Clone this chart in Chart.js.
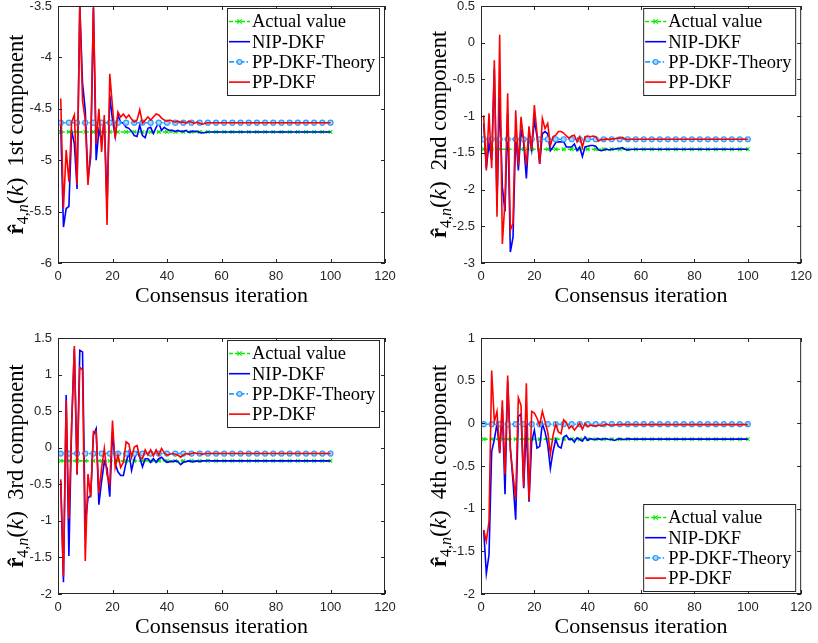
<!DOCTYPE html>
<html>
<head>
<meta charset="utf-8">
<script src="https://cdn.jsdelivr.net/npm/chart.js@4/dist/chart.umd.min.js"></script>
<style>
  body { margin: 0; background: #fff; width: 818px; height: 643px; position: relative; overflow: hidden; }
  canvas { position: absolute; }
</style>
</head>
<body>
<canvas id="c1" width="409" height="331" style="left:0;top:-10px"></canvas>
<canvas id="c2" width="409" height="331" style="left:409px;top:-10px"></canvas>
<canvas id="c3" width="409" height="322" style="left:0;top:321px"></canvas>
<canvas id="c4" width="409" height="322" style="left:409px;top:321px"></canvas>
<script>
// leyenda y ejes
const seriesNames = ["Actual value", "NIP-DKF", "PP-DKF-Theory", "PP-DKF"];
const componentNames = ["1st", "2nd", "3rd", "4th"];
const xTitle = "Consensus iteration";
const xTicks = [0, 20, 40, 60, 80, 100, 120];

// iteraciones de consenso 1..100
const iters = Array.from({ length: 100 }, (_, i) => i + 1);

// valores reales y teoricos (constantes)
const actualVals = [-4.725, -1.45, -0.18, -0.185];
const theoryVals = [-4.635, -1.315, -0.08, -0.01];

// rangos del eje y
const yMin = [-6, -3, -2, -2];
const yMax = [-3.5, 0.5, 1.5, 1];

// 1st component
const nip1 = [-4.65, -5.65, -5.47, -5.45, -4.71, -4.84, -5.28, -3.5, -4.25, -4.51,
  -5.19, -4.97, -3.52, -5.0, -4.71, -4.81, -4.61, -5.45, -4.37, -4.61,
  -4.77, -4.56, -4.63, -4.64, -4.68, -4.69, -4.72, -4.76, -4.77, -4.66,
  -4.76, -4.78, -4.69, -4.68, -4.74, -4.68, -4.64, -4.71, -4.68, -4.7,
  -4.71, -4.71, -4.72, -4.71, -4.72, -4.72, -4.71, -4.73, -4.72, -4.72,
  -4.72, -4.73, -4.735, -4.73, -4.725, -4.725, -4.725, -4.725, -4.725, -4.725,
  -4.725, -4.725, -4.725, -4.725, -4.725, -4.725, -4.725, -4.725, -4.725, -4.725,
  -4.725, -4.725, -4.725, -4.725, -4.725, -4.725, -4.725, -4.725, -4.725, -4.725,
  -4.725, -4.725, -4.725, -4.725, -4.725, -4.725, -4.725, -4.725, -4.725, -4.725,
  -4.725, -4.725, -4.725, -4.725, -4.725, -4.725, -4.725, -4.725, -4.725, -4.725];
const pp1 = [-4.4, -5.47, -4.9, -5.21, -4.63, -4.56, -5.24, -3.48, -4.42, -4.61,
  -5.24, -4.87, -3.5, -4.84, -4.5, -4.92, -4.56, -5.63, -4.16, -4.48,
  -4.79, -4.53, -4.58, -4.55, -4.59, -4.56, -4.6, -4.63, -4.61, -4.51,
  -4.64, -4.61, -4.58, -4.61, -4.58, -4.55, -4.56, -4.59, -4.61, -4.62,
  -4.61, -4.62, -4.63, -4.62, -4.63, -4.63, -4.64, -4.62, -4.63, -4.64,
  -4.63, -4.64, -4.65, -4.64, -4.635, -4.635, -4.635, -4.635, -4.635, -4.635,
  -4.635, -4.635, -4.635, -4.635, -4.635, -4.635, -4.635, -4.635, -4.635, -4.635,
  -4.635, -4.635, -4.635, -4.635, -4.635, -4.635, -4.635, -4.635, -4.635, -4.635,
  -4.635, -4.635, -4.635, -4.635, -4.635, -4.635, -4.635, -4.635, -4.635, -4.635,
  -4.635, -4.635, -4.635, -4.635, -4.635, -4.635, -4.635, -4.635, -4.635, -4.635];

// 2nd component
const nip2 = [-1.1, -1.71, -1.37, -1.6, -0.35, -2.19, -0.74, -1.96, -2.3, -0.96,
  -2.85, -2.65, -1.24, -1.74, -1.19, -1.37, -1.85, -1.24, -1.46, -1.05,
  -1.28, -1.65, -1.24, -1.21, -1.24, -1.47, -1.42, -1.36, -1.35, -1.35,
  -1.35, -1.42, -1.42, -1.42, -1.38, -1.47, -1.42, -1.55, -1.42, -1.41,
  -1.4, -1.4, -1.41, -1.46, -1.47, -1.46, -1.45, -1.46, -1.45, -1.45,
  -1.44, -1.44, -1.43, -1.45, -1.46, -1.455, -1.45, -1.45, -1.45, -1.45,
  -1.45, -1.45, -1.45, -1.45, -1.45, -1.45, -1.45, -1.45, -1.45, -1.45,
  -1.45, -1.45, -1.45, -1.45, -1.45, -1.45, -1.45, -1.45, -1.45, -1.45,
  -1.45, -1.45, -1.45, -1.45, -1.45, -1.45, -1.45, -1.45, -1.45, -1.45,
  -1.45, -1.45, -1.45, -1.45, -1.45, -1.45, -1.45, -1.45, -1.45, -1.45];
const pp2 = [-0.99, -1.74, -0.96, -1.71, -0.24, -2.37, 0.11, -2.74, -2.15, -0.69,
  -2.55, -2.46, -0.92, -1.67, -1.01, -1.33, -1.67, -1.14, -1.46, -0.85,
  -1.24, -1.65, -1.03, -1.17, -1.1, -1.4, -1.28, -1.26, -1.21, -1.21,
  -1.23, -1.27, -1.3, -1.27, -1.26, -1.35, -1.28, -1.42, -1.28, -1.27,
  -1.28, -1.27, -1.28, -1.34, -1.32, -1.32, -1.31, -1.32, -1.31, -1.31,
  -1.3, -1.3, -1.29, -1.31, -1.32, -1.315, -1.315, -1.315, -1.315, -1.315,
  -1.315, -1.315, -1.315, -1.315, -1.315, -1.315, -1.315, -1.315, -1.315, -1.315,
  -1.315, -1.315, -1.315, -1.315, -1.315, -1.315, -1.315, -1.315, -1.315, -1.315,
  -1.315, -1.315, -1.315, -1.315, -1.315, -1.315, -1.315, -1.315, -1.315, -1.315,
  -1.315, -1.315, -1.315, -1.315, -1.315, -1.315, -1.315, -1.315, -1.315, -1.315];

// 3rd component
const nip3 = [-0.46, -1.84, 0.72, -1.48, 0.3, 1.35, -0.37, 1.33, 1.31, -1.05,
  -0.69, -0.65, 0.17, 0.26, -0.78, -0.46, -0.19, -0.28, -0.67, 0.22,
  -0.22, -0.33, -0.38, -0.38, -0.2, -0.06, -0.31, -0.15, -0.06, -0.13,
  -0.26, -0.15, -0.15, -0.2, -0.15, -0.2, -0.15, -0.13, -0.17, -0.2,
  -0.19, -0.19, -0.18, -0.19, -0.23, -0.2, -0.19, -0.18, -0.19, -0.19,
  -0.18, -0.19, -0.18, -0.18, -0.175, -0.18, -0.18, -0.18, -0.18, -0.18,
  -0.18, -0.18, -0.18, -0.18, -0.18, -0.18, -0.18, -0.18, -0.18, -0.18,
  -0.18, -0.18, -0.18, -0.18, -0.18, -0.18, -0.18, -0.18, -0.18, -0.18,
  -0.18, -0.18, -0.18, -0.18, -0.18, -0.18, -0.18, -0.18, -0.18, -0.18,
  -0.18, -0.18, -0.18, -0.18, -0.18, -0.18, -0.18, -0.18, -0.18, -0.18];
const pp3 = [-0.43, -1.76, 0.65, -0.97, 0.3, 1.39, -0.36, 1.1, 1.06, -1.55,
  -0.36, -0.68, 0.22, 0.22, -0.62, -0.28, -0.01, -0.37, -0.5, 0.37,
  -0.27, -0.1, -0.27, -0.2, 0.08, 0.05, -0.13, 0.01, 0.03, -0.13,
  -0.15, -0.03, -0.1, -0.03, -0.11, -0.03, -0.1, -0.01, -0.07, -0.1,
  -0.09, -0.08, -0.09, -0.1, -0.13, -0.1, -0.08, -0.09, -0.08, -0.07,
  -0.08, -0.08, -0.09, -0.08, -0.08, -0.08, -0.08, -0.08, -0.08, -0.08,
  -0.08, -0.08, -0.08, -0.08, -0.08, -0.08, -0.08, -0.08, -0.08, -0.08,
  -0.08, -0.08, -0.08, -0.08, -0.08, -0.08, -0.08, -0.08, -0.08, -0.08,
  -0.08, -0.08, -0.08, -0.08, -0.08, -0.08, -0.08, -0.08, -0.08, -0.08,
  -0.08, -0.08, -0.08, -0.08, -0.08, -0.08, -0.08, -0.08, -0.08, -0.08];

// 4th component
const nip4 = [-1.25, -1.76, -1.54, -0.33, -0.19, 0.0, -0.35, 0.16, -0.83, 0.49,
  -0.29, -0.68, -1.13, 0.08, 0.11, -0.76, -0.02, -0.92, -0.21, -0.08,
  -0.29, -0.27, 0.0, -0.1, -0.25, -0.53, -0.33, -0.19, -0.27, -0.29,
  -0.16, -0.14, -0.19, -0.18, -0.22, -0.17, -0.19, -0.21, -0.16, -0.2,
  -0.18, -0.19, -0.19, -0.18, -0.19, -0.18, -0.18, -0.19, -0.19, -0.2,
  -0.19, -0.18, -0.19, -0.19, -0.18, -0.185, -0.185, -0.185, -0.185, -0.185,
  -0.185, -0.185, -0.185, -0.185, -0.185, -0.185, -0.185, -0.185, -0.185, -0.185,
  -0.185, -0.185, -0.185, -0.185, -0.185, -0.185, -0.185, -0.185, -0.185, -0.185,
  -0.185, -0.185, -0.185, -0.185, -0.185, -0.185, -0.185, -0.185, -0.185, -0.185,
  -0.185, -0.185, -0.185, -0.185, -0.185, -0.185, -0.185, -0.185, -0.185, -0.185];
const pp4 = [-1.25, -1.38, -1.15, 0.62, 0.02, 0.14, -0.34, 0.27, -0.6, 0.56,
  -0.31, -0.6, -0.88, 0.3, 0.21, -0.74, 0.47, -0.9, 0.14, 0.12,
  0.06, -0.02, 0.14, 0.02, -0.1, -0.36, -0.14, -0.01, -0.1, -0.12,
  0.04, 0.01, -0.06, -0.03, -0.08, -0.04, 0.0, -0.07, 0.0, -0.04,
  -0.02, -0.03, -0.03, -0.02, -0.03, -0.02, -0.01, -0.02, -0.02, -0.02,
  -0.015, -0.015, -0.015, -0.015, -0.015, -0.015, -0.015, -0.015, -0.015, -0.015,
  -0.015, -0.015, -0.015, -0.015, -0.015, -0.015, -0.015, -0.015, -0.015, -0.015,
  -0.015, -0.015, -0.015, -0.015, -0.015, -0.015, -0.015, -0.015, -0.015, -0.015,
  -0.015, -0.015, -0.015, -0.015, -0.015, -0.015, -0.015, -0.015, -0.015, -0.015,
  -0.015, -0.015, -0.015, -0.015, -0.015, -0.015, -0.015, -0.015, -0.015, -0.015];

const nipData = [nip1, nip2, nip3, nip4];
const ppData = [pp1, pp2, pp3, pp4];

// estilos
const axisColor = "#262626";
const tickFont = { family: "'Liberation Sans', Arial, sans-serif", size: 13 };
const serif = "'Liberation Serif', 'Times New Roman', serif";
const styles = [
  { color: "#00ee00", width: 1.6, dash: [4, 2], marker: "x" },
  { color: "#0000ff", width: 1.6, dash: [], marker: null },
  { color: "#2f9bff", width: 1.6, dash: [5, 2, 1.5, 2], marker: "o" },
  { color: "#ff0000", width: 1.6, dash: [], marker: null },
];

function toPoints(vals) {
  return vals.map((v, i) => ({ x: iters[i], y: v }));
}

function drawMarker(ctx, kind, x, y, color) {
  ctx.save();
  ctx.setLineDash([]);
  ctx.strokeStyle = color;
  ctx.lineWidth = 1.2;
  if (kind === "x") {
    ctx.beginPath();
    ctx.moveTo(x - 2.2, y - 2.2); ctx.lineTo(x + 2.2, y + 2.2);
    ctx.moveTo(x - 2.2, y + 2.2); ctx.lineTo(x + 2.2, y - 2.2);
    ctx.stroke();
  } else if (kind === "o") {
    ctx.fillStyle = "#a8d6ff";
    ctx.beginPath();
    ctx.arc(x, y, 2.4, 0, Math.PI * 2);
    ctx.fill();
    ctx.stroke();
  }
  ctx.restore();
}

// marco, marcas internas, leyenda y titulos estilo MATLAB
const framePlugin = {
  id: "frame",
  afterDraw(chart, args, opts) {
    const ctx = chart.ctx;
    const a = chart.chartArea;
    const xs = chart.scales.x, ys = chart.scales.y;
    ctx.save();
    ctx.strokeStyle = axisColor;
    ctx.lineWidth = 1;
    ctx.setLineDash([]);
    ctx.strokeRect(a.left + 0.5, a.top + 0.5, a.right - a.left - 1, a.bottom - a.top - 1);
    ctx.beginPath();
    xs.ticks.forEach(t => {
      const px = Math.round(xs.getPixelForValue(t.value)) + 0.5;
      ctx.moveTo(px, a.bottom); ctx.lineTo(px, a.bottom - 4);
      ctx.moveTo(px, a.top); ctx.lineTo(px, a.top + 4);
    });
    ys.ticks.forEach(t => {
      const py = Math.round(ys.getPixelForValue(t.value)) + 0.5;
      ctx.moveTo(a.left, py); ctx.lineTo(a.left + 4, py);
      ctx.moveTo(a.right, py); ctx.lineTo(a.right - 4, py);
    });
    ctx.stroke();

    // leyenda
    const w = 152, h = 87;
    const lx = a.right - 6 - w;
    const ly = opts.legend === "top" ? a.top + 2 : a.bottom - 3 - h;
    ctx.fillStyle = "#fff";
    ctx.fillRect(lx, ly, w, h);
    ctx.strokeRect(lx + 0.5, ly + 0.5, w, h);
    ctx.font = "18.5px " + serif;
    ctx.textBaseline = "middle";
    ctx.textAlign = "left";
    seriesNames.forEach((name, k) => {
      const ry = ly + 13.5 + k * 20.2;
      const st = styles[k];
      ctx.strokeStyle = st.color;
      ctx.lineWidth = st.width;
      ctx.setLineDash(st.dash);
      ctx.beginPath();
      ctx.moveTo(lx + 2, ry); ctx.lineTo(lx + 23, ry);
      ctx.stroke();
      if (st.marker) drawMarker(ctx, st.marker, lx + 12.5, ry, st.color);
      ctx.fillStyle = "#000";
      ctx.fillText(name, lx + 25, ry + 1);
    });

    // titulo eje x
    ctx.fillStyle = "#000";
    ctx.font = "22px " + serif;
    ctx.textAlign = "center";
    ctx.fillText(xTitle, (a.left + a.right) / 2, a.bottom + 33);

    // titulo eje y: r-hat sub 4,n (k) Nth component
    const segs = [
      { t: "r\u0302", f: "bold 23px " + serif, dy: 0 },
      { t: "4,", f: "16px " + serif, dy: 5 },
      { t: "n", f: "italic 16px " + serif, dy: 5 },
      { t: "(", f: "24px " + serif, dy: 0 },
      { t: "k", f: "italic 24px " + serif, dy: 0 },
      { t: ")", f: "24px " + serif, dy: 0 },
      { t: "  " + opts.comp + " component", f: "22.5px " + serif, dy: 0 },
    ];
    let total = 0;
    segs.forEach(s => { ctx.font = s.f; s.w = ctx.measureText(s.t).width; total += s.w; });
    ctx.translate(a.left - 42, (a.top + a.bottom) / 2);
    ctx.rotate(-Math.PI / 2);
    ctx.textAlign = "left";
    ctx.textBaseline = "alphabetic";
    let cx = -total / 2;
    segs.forEach(s => {
      ctx.font = s.f;
      ctx.fillText(s.t, cx, 7 + s.dy);
      cx += s.w;
    });
    ctx.restore();
  },
};

// posiciones del area de dibujo dentro de cada lienzo
const boxes = [
  { L: 58, T: 16, R: 385, B: 273, H: 331, legend: "top" },
  { L: 72, T: 16, R: 398, B: 273, H: 331, legend: "top" },
  { L: 58, T: 17, R: 385, B: 273, H: 322, legend: "top" },
  { L: 72, T: 17, R: 398, B: 273, H: 322, legend: "bottom" },
];

function tickLabel(v) {
  return String(Math.round(v * 100) / 100);
}

function makeChart(idx) {
  const b = boxes[idx];
  const mk = c => (c.dataIndex % 3 === 0 ? 2.5 : 0);
  const datasets = [
    {
      data: toPoints(new Array(100).fill(actualVals[idx])),
      borderColor: styles[0].color, borderWidth: styles[0].width, borderDash: styles[0].dash,
      pointStyle: "crossRot", pointRadius: mk, pointBorderColor: styles[0].color,
      pointBorderWidth: 1.2, order: 4,
    },
    {
      data: toPoints(nipData[idx]),
      borderColor: styles[1].color, borderWidth: styles[1].width, pointRadius: 0, order: 3,
    },
    {
      data: toPoints(new Array(100).fill(theoryVals[idx])),
      borderColor: styles[2].color, borderWidth: styles[2].width, borderDash: styles[2].dash,
      pointStyle: "circle", pointRadius: mk, pointBackgroundColor: "#a8d6ff",
      pointBorderColor: styles[2].color, pointBorderWidth: 1.2, order: 2,
    },
    {
      data: toPoints(ppData[idx]),
      borderColor: styles[3].color, borderWidth: styles[3].width, pointRadius: 0, order: 1,
    },
  ];
  return new Chart(document.getElementById("c" + (idx + 1)), {
    type: "line",
    data: { datasets: datasets },
    options: {
      responsive: false,
      animation: false,
      devicePixelRatio: 1,
      layout: { padding: { left: 0, top: b.T, right: 409 - b.R, bottom: 0 } },
      elements: { line: { tension: 0 } },
      scales: {
        x: {
          type: "linear", min: 0, max: 120,
          afterBuildTicks: s => { s.ticks = xTicks.map(v => ({ value: v })); },
          afterFit: s => { s.height = b.H - b.B; },
          grid: { display: false, drawTicks: false, tickLength: 0 }, border: { display: false },
          ticks: { color: axisColor, font: tickFont, padding: 6, maxRotation: 0 },
        },
        y: {
          min: yMin[idx], max: yMax[idx],
          afterFit: s => { s.width = b.L; },
          grid: { display: false, drawTicks: false, tickLength: 0 }, border: { display: false },
          ticks: { color: axisColor, font: tickFont, padding: 6, stepSize: 0.5, callback: tickLabel },
        },
      },
      plugins: {
        legend: { display: false },
        tooltip: { enabled: false },
        frame: { legend: b.legend, comp: componentNames[idx] },
      },
    },
    plugins: [framePlugin],
  });
}

for (let i = 0; i < 4; i++) makeChart(i);
</script>
</body>
</html>
